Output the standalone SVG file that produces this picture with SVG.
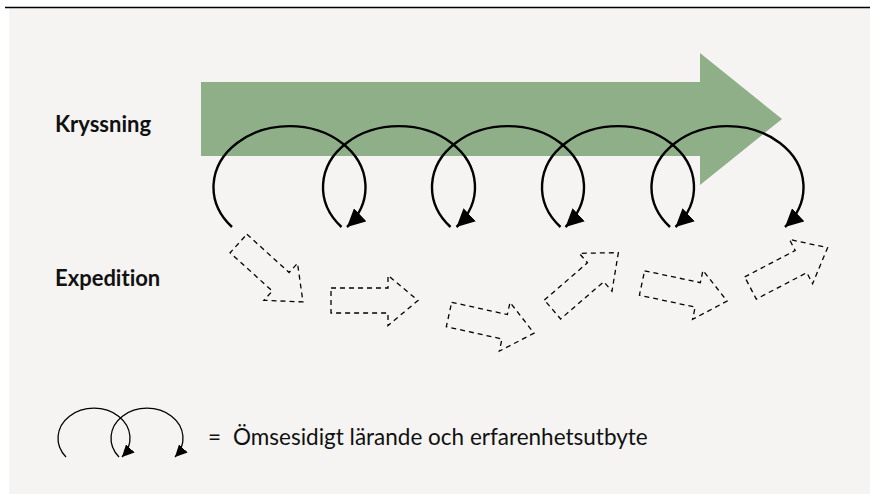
<svg xmlns="http://www.w3.org/2000/svg" width="870" height="494" viewBox="0 0 870 494">
  <style>
    .loop { fill: none; stroke: #000; stroke-width: 2.4; }
    .sloop { fill: none; stroke: #000; stroke-width: 1.3; }
    .dash { fill: none; stroke: #000; stroke-width: 1.3; stroke-dasharray: 5 4; }
    .lbl { font-family: Lato, "Open Sans", "Liberation Sans", sans-serif; font-weight: 700; font-size: 22px; fill: #111; font-variant-ligatures: none; }
    .leg { font-family: Lato, "Open Sans", "Liberation Sans", sans-serif; font-size: 22.5px; fill: #111; font-variant-ligatures: none; }
  </style>
  <defs>
    <marker id="ah" markerUnits="userSpaceOnUse" markerWidth="18" markerHeight="18" viewBox="0 0 16 16" refX="16" refY="8" orient="auto">
      <path d="M0,0 L16,8 L0,16 Z" fill="#000"/>
    </marker>
    <marker id="ahs" markerUnits="userSpaceOnUse" markerWidth="12" markerHeight="12" viewBox="0 0 12 12" refX="12" refY="6" orient="auto">
      <path d="M0,0 L12,6 L0,12 Z" fill="#000"/>
    </marker>
    <path id="darr" d="M0,-12.5 H57 V-25 L87,0 L57,25 V12.5 H0 Z"/>
  </defs>

  <rect x="0" y="0" width="870" height="494" fill="#ffffff"/>
  <rect x="9" y="8" width="861" height="486" fill="#f5f4f2"/>
  <line x1="5" y1="7.5" x2="870" y2="7.5" stroke="#000" stroke-width="1.4"/>

  <g id="kryssning-arrow">
    <path d="M201,82 H700 V53 L782,119 L700,185 V156 H201 Z" fill="#8faf88"/>
  </g>

  <g id="label-kryssning"><text class="lbl" x="55" y="132">Kryssning</text></g>
  <g id="label-expedition"><text class="lbl" x="55" y="286">Expedition</text></g>

  <g id="connectors">
    <path class="loop" d="M232,227 A76,61 0 1 1 347,227" marker-end="url(#ah)"/>
    <path class="loop" d="M341.5,227 A76,61 0 1 1 456.5,227" marker-end="url(#ah)"/>
    <path class="loop" d="M450.5,227 A76,61 0 1 1 565.5,227" marker-end="url(#ah)"/>
    <path class="loop" d="M560.5,227 A76,61 0 1 1 675.5,227" marker-end="url(#ah)"/>
    <path class="loop" d="M670,227 A76,61 0 1 1 785,227" marker-end="url(#ah)"/>
  </g>

  <g id="expedition-arrows">
    <g id="exp1"><use href="#darr" class="dash" transform="translate(238.5,243.5) rotate(42.2)"/></g>
    <g id="exp2"><use href="#darr" class="dash" transform="translate(331,300.5)"/></g>
    <g id="exp3"><use href="#darr" class="dash" transform="translate(449,314.5) rotate(12.4)"/></g>
    <g id="exp4"><use href="#darr" class="dash" transform="translate(552.5,309.5) rotate(-40.8)"/></g>
    <g id="exp5"><use href="#darr" class="dash" transform="translate(642,283) rotate(12)"/></g>
    <g id="exp6"><use href="#darr" class="dash" transform="translate(750.5,288) rotate(-27.6)"/></g>
  </g>

  <g id="legend">
    <path class="sloop" d="M66,457 A36,30 0 1 1 122,457" marker-end="url(#ahs)"/>
    <path class="sloop" d="M119,457 A36,30 0 1 1 175,457" marker-end="url(#ahs)"/>
    <text class="leg" x="208" y="445">=<tspan x="233">Ömsesidigt lärande och erfarenhetsutbyte</tspan></text>
  </g>
</svg>
